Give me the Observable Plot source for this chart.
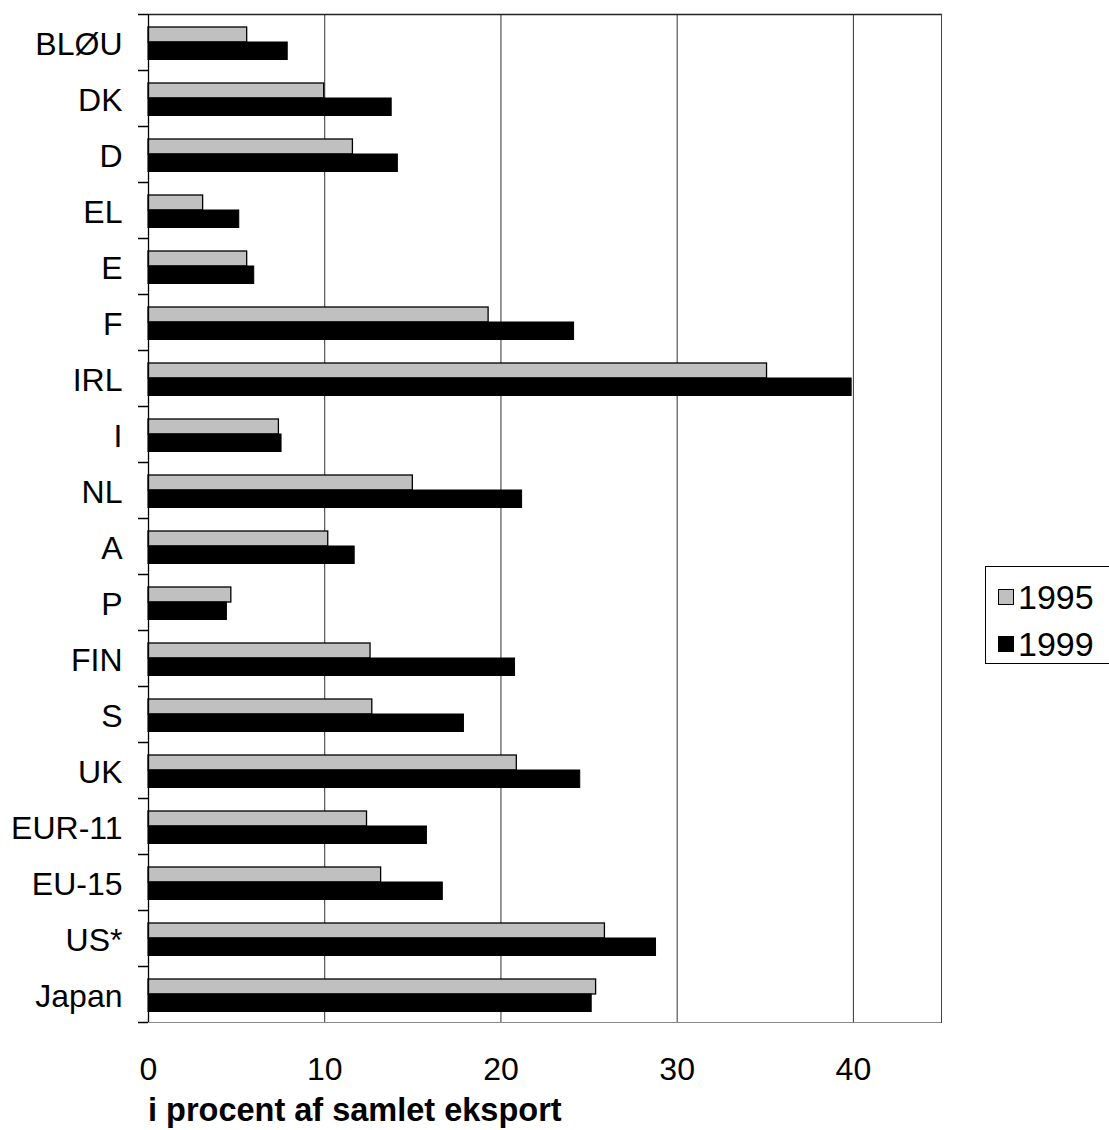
<!DOCTYPE html>
<html>
<head>
<meta charset="utf-8">
<script src="https://cdn.jsdelivr.net/npm/d3@7"></script>
<script src="https://cdn.jsdelivr.net/npm/@observablehq/plot@0.6"></script>
<style>
  html, body { margin: 0; padding: 0; background: #fff; }
  body { font-family: "Liberation Sans", Arial, sans-serif; }
  #wrap { position: relative; width: 1109px; height: 1130px; overflow: hidden; }
  #chart { position: absolute; left: 0; top: 0; }
  #xlabel { position: absolute; left: 148px; top: 1094px; font-weight: bold; font-size: 32.5px; line-height: 1; color: #000; white-space: nowrap; }
  #legend { position: absolute; left: 985px; top: 566px; width: 130px; height: 98px; border: 1px solid #000; box-sizing: border-box; background: #fff; }
  .item { position: absolute; left: 12px; font-size: 34px; line-height: 1; display: flex; align-items: center; }
  .sw { width: 16px; height: 16px; border: 1px solid #000; box-sizing: border-box; margin-right: 4px; }
</style>
</head>
<body>
<div id="wrap">
  <div id="chart"></div>
  <div id="legend"></div>
  <div id="xlabel"></div>
</div>
<script>
const countries = ["BLØU", "DK", "D", "EL", "E", "F", "IRL", "I", "NL", "A", "P", "FIN", "S", "UK", "EUR-11", "EU-15", "US*", "Japan"];
const values1995 = [5.6, 9.97, 11.6, 3.1, 5.6, 19.3, 35.1, 7.4, 15.0, 10.2, 4.7, 12.6, 12.7, 20.9, 12.4, 13.2, 25.9, 25.4];
const values1999 = [7.9, 13.8, 14.15, 5.15, 6.0, 24.15, 39.9, 7.55, 21.2, 11.7, 4.45, 20.8, 17.9, 24.5, 15.8, 16.7, 28.8, 25.15];
const seriesNames = ["1995", "1999"];
const seriesColors = ["#c0c0c0", "#000000"];
const xTicks = [0, 10, 20, 30, 40];
const gridTicks = [10, 20, 30, 40];
const xLabel = "i procent af samlet eksport";

const rows1995 = countries.map((c, i) => ({country: c, value: values1995[i]}));
const rows1999 = countries.map((c, i) => ({country: c, value: values1999[i]}));
const lastCountry = [countries[countries.length - 1]];

// layout
const W = 1109, H = 1130;
const mLeft = 148, mRight = 168, mTop = 14, mBottom = 108;
const xMax = 45;
// the 10px outward tick length expressed in x units
const tickLen = -10 * xMax / (W - mLeft - mRight);
const halfBand = (H - mTop - mBottom) / countries.length / 2;

const chart = Plot.plot({
  width: W,
  height: H,
  marginTop: mTop,
  marginBottom: mBottom,
  marginLeft: mLeft,
  marginRight: mRight,
  style: {fontFamily: "'Liberation Sans', Arial, sans-serif"},
  x: {domain: [0, xMax], label: null},
  y: {domain: countries, paddingInner: 0, paddingOuter: 0, label: null},
  marks: [
    Plot.gridX(gridTicks, {stroke: "#333", strokeOpacity: 1, strokeWidth: 1}),
    Plot.frame({anchor: "bottom", stroke: "#888", strokeWidth: 1}),
    Plot.frame({anchor: "top", stroke: "#222", strokeWidth: 1.3}),
    Plot.frame({anchor: "right", stroke: "#444", strokeWidth: 1}),
    Plot.barX(rows1995, {y: "country", x: "value", fill: seriesColors[0], stroke: "#000", strokeWidth: 1.3, insetTop: 13, insetBottom: 28}),
    Plot.barX(rows1999, {y: "country", x: "value", fill: seriesColors[1], stroke: "#000", strokeWidth: 1, insetTop: 28, insetBottom: 10.5}),
    Plot.ruleX([0], {stroke: "#000", strokeWidth: 1.3}),
    Plot.axisY({tickSize: 0, tickPadding: 26, fontSize: 32, dy: 2, fill: "#000", label: null}),
    Plot.axisX({ticks: xTicks, tickSize: 0, tickPadding: 35, fontSize: 32, fill: "#000", label: null}),
    // category boundary ticks on the left axis
    Plot.ruleY(countries, {y: d => d, x1: tickLen, x2: 0, dy: -halfBand, stroke: "#000", strokeWidth: 1.5}),
    Plot.ruleY(lastCountry, {y: d => d, x1: tickLen, x2: 0, dy: halfBand, stroke: "#000", strokeWidth: 1.5})
  ]
});
document.getElementById("chart").appendChild(chart);

document.getElementById("xlabel").textContent = xLabel;

const legend = document.getElementById("legend");
seriesNames.forEach((name, i) => {
  const item = document.createElement("div");
  item.className = "item";
  item.style.top = (i === 0 ? 13 : 60) + "px";
  const sw = document.createElement("div");
  sw.className = "sw";
  sw.style.background = seriesColors[i];
  const t = document.createElement("span");
  t.textContent = name;
  item.appendChild(sw);
  item.appendChild(t);
  legend.appendChild(item);
});
</script>
</body>
</html>
